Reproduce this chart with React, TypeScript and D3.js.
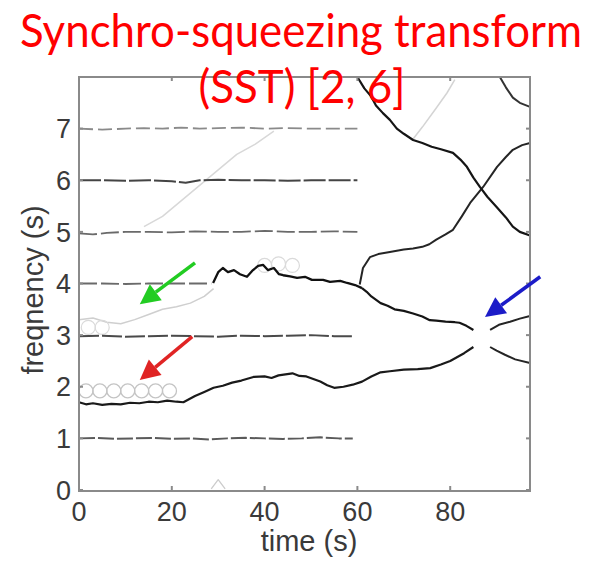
import React from "react";
import * as d3 from "d3";

type Pt = [number, number];

const TIME_TICKS = [0, 20, 40, 60, 80];
const FREQ_TICKS = [0, 1, 2, 3, 4, 5, 6, 7];
const TITLE_LINES = ["Synchro-squeezing transform", "(SST) [2, 6]"];
const X_LABEL = "time (s)";
const Y_LABEL = "freqnency (s)";

// ridge curves [time (s), frequency]
const ridgeOne: Pt[] = [[0,1.0],[4,1.01],[8,0.99],[12,1.0],[16,1.01],[20,0.99],[24,1.0],[28,0.98],[32,1.0],[36,1.01],[40,1.0],[44,0.99],[48,1.0],[52,1.02],[56,1.0],[59,1.0]];
const ridgeThree: Pt[] = [[0,2.98],[5,2.99],[10,2.97],[15,2.98],[20,2.99],[25,2.98],[30,2.97],[35,2.99],[40,2.98],[45,2.99],[50,3.0],[55,2.98],[59,2.98]];
const ridgeFive: Pt[] = [[0,4.97],[3,4.95],[6,4.98],[10,5.0],[15,5.0],[20,4.99],[25,5.01],[30,5.0],[35,5.0],[40,5.02],[45,5.0],[50,5.0],[55,5.01],[60,5.0]];
const ridgeSix: Pt[] = [[0,6.0],[5,6.0],[10,5.99],[15,6.0],[20,5.98],[23,5.95],[26,6.0],[30,6.01],[35,6.0],[40,6.0],[45,5.99],[50,6.0],[55,6.0],[60,6.0]];
const ridgeSeven: Pt[] = [[0,7.0],[5,6.98],[10,7.0],[14,7.01],[18,7.0],[22,7.02],[26,7.0],[30,7.01],[35,7.02],[40,7.0],[45,7.01],[50,7.0],[55,7.0],[60,7.0]];
const ridgeFourEarly: Pt[] = [[0,4.0],[5,4.0],[10,3.99],[15,4.0],[20,4.0],[25,4.0],[28.5,4.0]];
const ridgeFourWavy: Pt[] = [[28.9,4.01],[30,4.22],[31,4.3],[32.1,4.22],[33.4,4.26],[34.7,4.18],[36.2,4.13],[37.5,4.26],[38.6,4.34],[39.7,4.36],[40.7,4.26],[42,4.3],[43.1,4.18],[44,4.16],[45.5,4.14],[47,4.11],[48.7,4.13],[50.2,4.07],[52.6,4.07],[54.1,4.03],[56.3,4.05],[57.8,4.01],[59.5,3.97],[61,3.91]];
const ridgeDescend: Pt[] = [[61,3.91],[62,3.84],[63,3.75],[65,3.62],[66.5,3.57],[68,3.5],[70,3.47],[72,3.42],[74,3.36],[75.6,3.29],[77,3.28],[79,3.26],[81,3.25],[82,3.24],[83.5,3.18],[85,3.1]];
const ridgeDescendEnd: Pt[] = [[88.6,2.77],[90,2.7],[91.8,2.62],[94,2.53],[97.2,2.46]];
const ridgeAscend: Pt[] = [[60.5,3.98],[61.2,4.3],[62.7,4.51],[64.5,4.57],[67,4.61],[70,4.66],[72,4.68],[74,4.71],[75.5,4.76],[77,4.85],[79,4.95],[80.6,5.04],[82.5,5.3],[84.3,5.56],[87.1,5.87],[90.1,6.26],[92,6.45],[93.5,6.59],[95.5,6.68],[97.2,6.72]];
const ridgeTopDescend: Pt[] = [[60,8.0],[61.5,7.78],[63,7.62],[64,7.45],[65.5,7.3],[67,7.17],[68.5,7.0],[70,6.9],[72,6.78],[74,6.72],[76,6.65],[78,6.6],[80.6,6.53],[82.2,6.4],[83.6,6.26],[85,6.05],[86.4,5.87],[88,5.68],[90,5.48],[92,5.28],[93.5,5.1],[95,5.0],[97.2,4.93]];
const ridgeTopCorner: Pt[] = [[90.7,8.0],[92,7.8],[93.5,7.6],[95,7.5],[97.2,7.42]];
const ridgeLower: Pt[] = [[0,1.7],[1.5,1.66],[3,1.68],[5,1.65],[7,1.67],[9,1.66],[11,1.69],[13,1.68],[15,1.71],[17,1.7],[19,1.73],[21,1.71],[22.5,1.7],[25,1.82],[27,1.9],[29,1.98],[31,2.02],[33,2.08],[35,2.12],[37.6,2.19],[40,2.2],[41.5,2.17],[43,2.22],[44.5,2.24],[46,2.26],[47.5,2.21],[49,2.2],[50.5,2.15],[52,2.1],[53.5,2.03],[55,1.98],[57,2.0],[59,2.04],[61,2.1],[63,2.2],[65,2.28],[67,2.3],[70,2.33],[73,2.34],[75.7,2.36],[78,2.43],[80,2.5],[83,2.65],[85,2.77]];
const ridgeLowerEnd: Pt[] = [[88.6,3.1],[90.5,3.2],[92.9,3.26],[95,3.32],[97.2,3.37]];

// faint traces
const faintThree: Pt[] = [[0,3.3],[3,3.33],[6,3.25],[9,3.22],[12,3.3],[15,3.4],[18,3.5],[21,3.55],[24,3.62],[27,3.75],[29,3.9]];
const faintDiagonal: Pt[] = [[14,5.1],[18,5.3],[22,5.6],[26,5.9],[30,6.2],[34,6.5],[38,6.7],[42,6.95]];
const faintUpper: Pt[] = [[72,6.8],[74,7.03],[77,7.4],[79.3,7.69],[81,7.95]];
const faintPeak: Pt[] = [[28.5,0.02],[30,0.2],[31.5,0.02]];
const bubbleTimes = [1.5, 4.5, 7.5, 10.5, 13.5, 16.5, 19.5];
const bubbleFreq = 1.92;
const bubbleUpperTimes = [2, 5, 40, 43, 46];
const bubbleUpperFreqs = [3.15, 3.15, 4.35, 4.38, 4.35];

// annotation arrows: [tailT, tailF, tipT, tipF]
const arrowGreen = [25, 4.4, 13.1, 3.6];
const arrowRed = [24.4, 2.97, 13.1, 2.13];
const arrowBlue = [99.4, 4.13, 87.5, 3.35];

const W = 589, H = 565;

export default function App() {
  const x = d3.scaleLinear().domain([0, 97.2]).range([79, 530]);
  const y = d3.scaleLinear().domain([0, 8]).range([490, 77]);
  const line = d3.line<Pt>().x(d => x(d[0])).y(d => y(d[1]));

  const ridge = (pts: Pt[], color: string, w = 2, dash?: string) => (
    <path d={line(pts) || ""} fill="none" stroke={color} strokeWidth={w} strokeDasharray={dash} strokeLinejoin="round" />
  );

  const arrow = (a: number[], color: string) => {
    const x1 = x(a[0]), y1 = y(a[1]), x2 = x(a[2]), y2 = y(a[3]);
    const ang = Math.atan2(y2 - y1, x2 - x1);
    const hl = 20, hw = 10;
    const bx = x2 - hl * Math.cos(ang), by = y2 - hl * Math.sin(ang);
    const px = -Math.sin(ang) * hw, py = Math.cos(ang) * hw;
    return (
      <g>
        <line x1={x1} y1={y1} x2={bx} y2={by} stroke={color} strokeWidth={3.5} />
        <path d={`M${x2},${y2}L${bx + px},${by + py}L${bx - px},${by - py}Z`} fill={color} />
      </g>
    );
  };

  const frame = "#8a8a8a";
  const font = "'Liberation Sans', Arial, sans-serif";

  return (
    <svg width={W} height={H} style={{ position: "absolute", left: 0, top: 0, background: "#fff" }}>
      <rect x={0} y={0} width={W} height={H} fill="#fff" />
      {/* faint traces */}
      {ridge(faintThree, "#cfcfcf", 1.5)}
      {ridge(faintDiagonal, "#d8d8d8", 1.5)}
      {ridge(faintUpper, "#d4d4d4", 1.5)}
      {ridge(faintPeak, "#cccccc", 1.3)}
      {bubbleTimes.map((t, i) => (
        <circle key={"b" + i} cx={x(t)} cy={y(bubbleFreq)} r={7} fill="none" stroke="#c4c4c4" strokeWidth={1.3} />
      ))}
      {bubbleUpperTimes.map((t, i) => (
        <circle key={"u" + i} cx={x(t)} cy={y(bubbleUpperFreqs[i])} r={7} fill="none" stroke="#dadada" strokeWidth={1.2} />
      ))}
      {/* ridges */}
      {ridge(ridgeOne, "#5a5a5a", 2, "16 3")}
      {ridge(ridgeThree, "#4a4a4a", 2, "20 3")}
      {ridge(ridgeFive, "#6a6a6a", 1.8, "18 4")}
      {ridge(ridgeSix, "#444", 2, "22 3")}
      {ridge(ridgeSeven, "#8a8a8a", 1.8, "14 5")}
      {ridge(ridgeFourEarly, "#6a6a6a", 1.8, "18 4")}
      {ridge(ridgeFourWavy, "#111", 2.3)}
      {ridge(ridgeDescend, "#151515", 2.2)}
      {ridge(ridgeDescendEnd, "#252525", 2)}
      {ridge(ridgeAscend, "#252525", 2)}
      {ridge(ridgeTopDescend, "#151515", 2.2)}
      {ridge(ridgeTopCorner, "#333", 2)}
      {ridge(ridgeLower, "#1a1a1a", 2.2)}
      {ridge(ridgeLowerEnd, "#252525", 2)}
      {/* frame */}
      <rect x={x(0)} y={y(8)} width={x(97.2) - x(0)} height={y(0) - y(8) + 1} fill="none" stroke={frame} strokeWidth={2} />
      {TIME_TICKS.map(t => (
        <g key={"xt" + t}>
          <line x1={x(t)} x2={x(t)} y1={y(0)} y2={y(0) - 4} stroke={frame} strokeWidth={2} />
          <line x1={x(t)} x2={x(t)} y1={y(8)} y2={y(8) + 4} stroke={frame} strokeWidth={2} />
          <text x={x(t)} y={521} textAnchor="middle" fontFamily={font} fontSize={27} fill="#3a3a3a">{t}</text>
        </g>
      ))}
      {FREQ_TICKS.map(f => (
        <g key={"yt" + f}>
          <line x1={x(0)} x2={x(0) + 4} y1={y(f)} y2={y(f)} stroke={frame} strokeWidth={2} />
          <line x1={x(97.2)} x2={x(97.2) - 4} y1={y(f)} y2={y(f)} stroke={frame} strokeWidth={2} />
          <text x={71} y={y(f)} dy="0.36em" textAnchor="end" fontFamily={font} fontSize={27} fill="#3a3a3a">{f}</text>
        </g>
      ))}
      <text x={309} y={551} textAnchor="middle" fontFamily={font} fontSize={29} fill="#3a3a3a">{X_LABEL}</text>
      <text transform={`translate(43,290) rotate(-90)`} textAnchor="middle" fontFamily={font} fontSize={29} fill="#3a3a3a">{Y_LABEL}</text>
      {/* arrows */}
      {arrow(arrowGreen, "#22cc22")}
      {arrow(arrowRed, "#e02424")}
      {arrow(arrowBlue, "#1c1cc8")}
      {/* title */}
      <text x={301} y={47} textAnchor="middle" fontFamily="Lato, 'Open Sans', sans-serif" fontSize={46} fill="#ff0000" textLength={562} lengthAdjust="spacingAndGlyphs">{TITLE_LINES[0]}</text>
      <text x={302} y={103} textAnchor="middle" fontFamily="Lato, 'Open Sans', sans-serif" fontSize={46} fill="#ff0000" textLength={207} lengthAdjust="spacingAndGlyphs">{TITLE_LINES[1]}</text>
    </svg>
  );
}
